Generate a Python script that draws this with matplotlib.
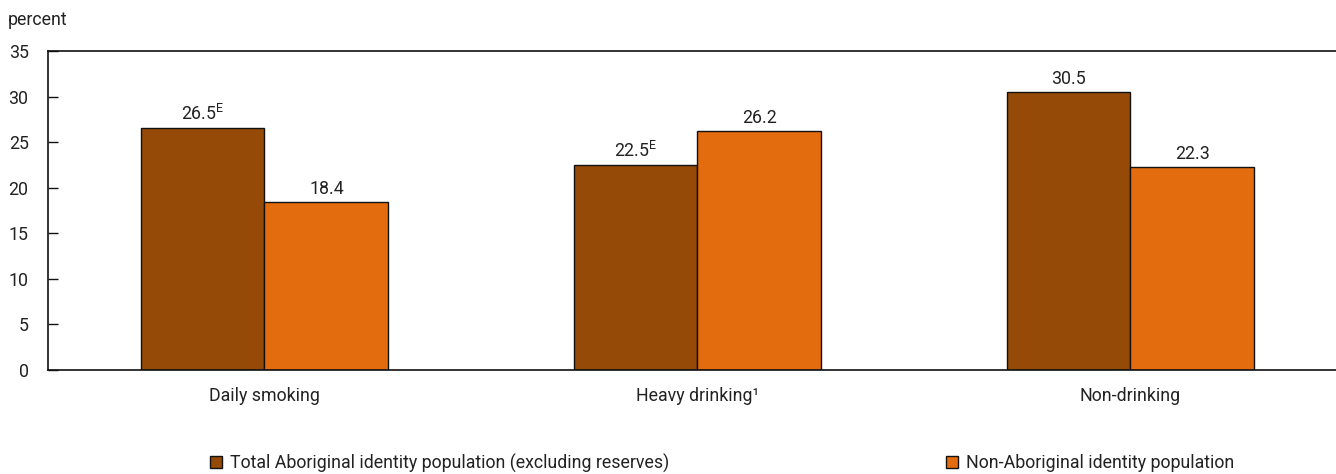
import matplotlib
matplotlib.use("Agg")
import matplotlib.pyplot as plt
from matplotlib.patches import Rectangle
import numpy as np

categories = ["Daily smoking", "Heavy drinking\u00b9", "Non-drinking"]
series_names = ["Total Aboriginal identity population (excluding reserves)",
                "Non-Aboriginal identity population"]
aboriginal = [26.5, 22.5, 30.5]
non_aboriginal = [18.4, 26.2, 22.3]
aboriginal_flags = ["E", "E", ""]
non_aboriginal_flags = ["", "", ""]
yticks = [0, 5, 10, 15, 20, 25, 30, 35]

FONT = ["Roboto", "DejaVu Sans"]
plt.rcParams["font.family"] = FONT
plt.rcParams["mathtext.fontset"] = "custom"
plt.rcParams["mathtext.rm"] = "Roboto"
plt.rcParams["mathtext.it"] = "Roboto"

TXT = "#222222"
C1 = "#964A08"
C2 = "#E36C0E"
FS = 12.8

W, H = 1336, 474
fig = plt.figure(figsize=(W / 100, H / 100), dpi=100)
left_px, right_px, top_px, bot_px = 48, 1347, 51, 370
ax = fig.add_axes([left_px / W, 1 - bot_px / H, (right_px - left_px) / W, (bot_px - top_px) / H])

x = np.arange(len(categories))
bw = 0.286
b1 = ax.bar(x - bw / 2, aboriginal, bw, color=C1, edgecolor="#111111", linewidth=1)
b2 = ax.bar(x + bw / 2, non_aboriginal, bw, color=C2, edgecolor="#111111", linewidth=1)

def lab(v, f):
    s = f"{v:.1f}"
    if f:
        s += r"$^{\mathrm{" + f + "}}$"
    return s

for bars, vals, flags in ((b1, aboriginal, aboriginal_flags), (b2, non_aboriginal, non_aboriginal_flags)):
    for r, v, f in zip(bars, vals, flags):
        ax.annotate(lab(v, f), (r.get_x() + r.get_width() / 2, v), xytext=(0, 3),
                    textcoords="offset points", ha="center", va="bottom",
                    fontsize=FS, color=TXT)

ax.set_xlim(-0.5, 2.5)
ax.set_ylim(0, 35)
ax.set_yticks(yticks)
ax.set_yticklabels([str(t) for t in yticks], fontsize=FS, color=TXT)
ax.set_xticks(x)
ax.set_xticklabels(categories, fontsize=FS, color=TXT)
ax.tick_params(axis="y", direction="in", length=7, width=1, color="#111111", pad=14)
ax.tick_params(axis="x", length=0, pad=12)
for s in ("left", "top", "bottom"):
    ax.spines[s].set_color("#111111")
    ax.spines[s].set_linewidth(1.2)
ax.spines["right"].set_visible(False)

fig.text(8 / W, 1 - 20 / H, "percent", fontsize=FS, color=TXT, ha="left", va="center")

for name, col, xp in ((series_names[0], C1, 210), (series_names[1], C2, 946)):
    h = Rectangle((0, 0), 1, 1, facecolor=col, edgecolor="#111111", linewidth=1)
    fig.legend([h], [name], loc="center left", bbox_to_anchor=(xp / W, 1 - 463 / H),
               frameon=False, fontsize=FS, handlelength=0.65, handleheight=0.65,
               handletextpad=0.5, borderpad=0, borderaxespad=0, labelcolor=TXT)

fig.savefig("out.png", dpi=100)
